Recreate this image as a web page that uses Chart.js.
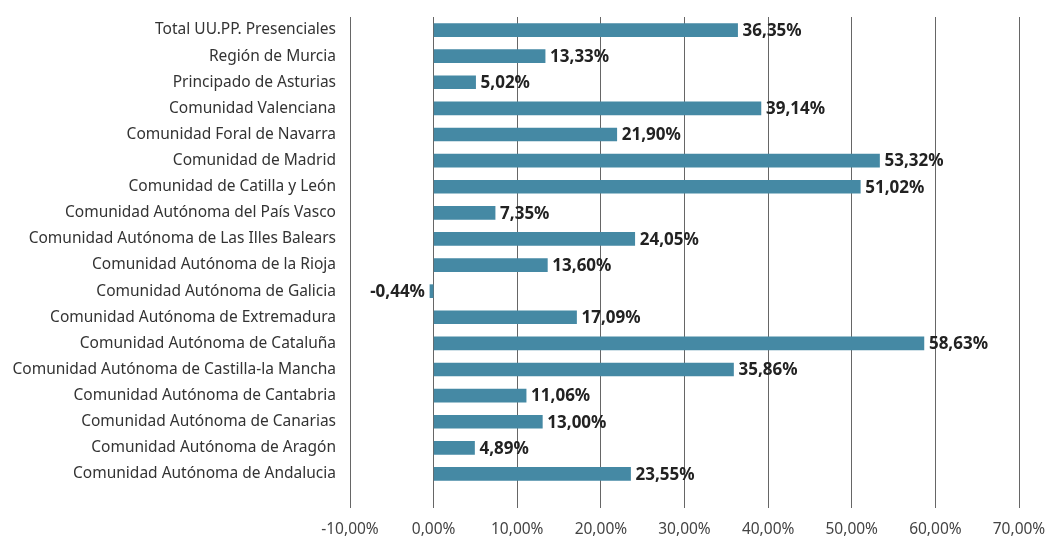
<!DOCTYPE html>
<html>
<head>
<meta charset="utf-8">
<script src="https://cdn.jsdelivr.net/npm/chart.js@4"></script>
<style>
  body { margin: 0; background: #fff; }
</style>
</head>
<body>
<canvas id="myChartBar" width="1051" height="537"></canvas>
<script>
const labelsBar = [
  'Total UU.PP. Presenciales',
  'Región de Murcia',
  'Principado de Asturias',
  'Comunidad Valenciana',
  'Comunidad Foral de Navarra',
  'Comunidad de Madrid',
  'Comunidad de Catilla y León',
  'Comunidad Autónoma del País Vasco',
  'Comunidad Autónoma de Las Illes Balears',
  'Comunidad Autónoma de la Rioja',
  'Comunidad Autónoma de Galicia',
  'Comunidad Autónoma de Extremadura',
  'Comunidad Autónoma de Cataluña',
  'Comunidad Autónoma de Castilla-la Mancha',
  'Comunidad Autónoma de Cantabria',
  'Comunidad Autónoma de Canarias',
  'Comunidad Autónoma de Aragón',
  'Comunidad Autónoma de Andalucia'
];
const valuesBar = [36.35, 13.33, 5.02, 39.14, 21.90, 53.32, 51.02, 7.35, 24.05, 13.60, -0.44, 17.09, 58.63, 35.86, 11.06, 13.00, 4.89, 23.55];
const tickMin = -10;
const tickMax = 70;
const tickStep = 10;

const fontFamily = "'Noto Sans', Roboto, sans-serif";

function pct(v) {
  return v.toFixed(2).replace('.', ',') + '%';
}

// draws the bold value next to each bar end
const valueLabels = {
  id: 'valueLabels',
  afterDatasetsDraw(chart) {
    const ctx = chart.ctx;
    const meta = chart.getDatasetMeta(0);
    ctx.save();
    ctx.font = 'bold 17px ' + fontFamily;
    ctx.fillStyle = '#222';
    ctx.textBaseline = 'middle';
    meta.data.forEach((bar, i) => {
      const v = valuesBar[i];
      if (v >= 0) {
        ctx.textAlign = 'left';
        ctx.fillText(pct(v), bar.x + 5, bar.y + 1);
      } else {
        ctx.textAlign = 'right';
        ctx.fillText(pct(v), bar.x - 5, bar.y + 1);
      }
    });
    ctx.restore();
  }
};

const dataBar = {
  labels: labelsBar,
  datasets: [{
    data: valuesBar,
    backgroundColor: '#4589a4',
    barThickness: 13
  }]
};

const configBar = {
  type: 'bar',
  data: dataBar,
  plugins: [valueLabels],
  options: {
    indexAxis: 'y',
    responsive: false,
    animation: false,
    layout: { padding: { top: 17, right: 32, bottom: 0, left: 0 } },
    plugins: {
      legend: { display: false },
      tooltip: { enabled: false }
    },
    scales: {
      x: {
        min: tickMin,
        max: tickMax,
        afterFit: s => { s.height = 50; s.paddingLeft = 0; s.paddingRight = 0; },
        ticks: {
          stepSize: tickStep,
          color: '#444',
          padding: 12,
          font: { family: fontFamily, size: 15.5 },
          callback: v => pct(v)
        },
        grid: { color: '#666', lineWidth: 1, tickLength: 21, drawTicks: true },
        border: { display: false }
      },
      y: {
        afterFit: s => { s.width = 350; s.paddingTop = 0; s.paddingBottom = 0; },
        ticks: {
          color: '#333',
          padding: 6,
          font: { family: fontFamily, size: 15.5 }
        },
        grid: { display: false },
        border: { display: false }
      }
    }
  }
};

var myChartBar = new Chart(document.getElementById('myChartBar'), configBar);
</script>
</body>
</html>
